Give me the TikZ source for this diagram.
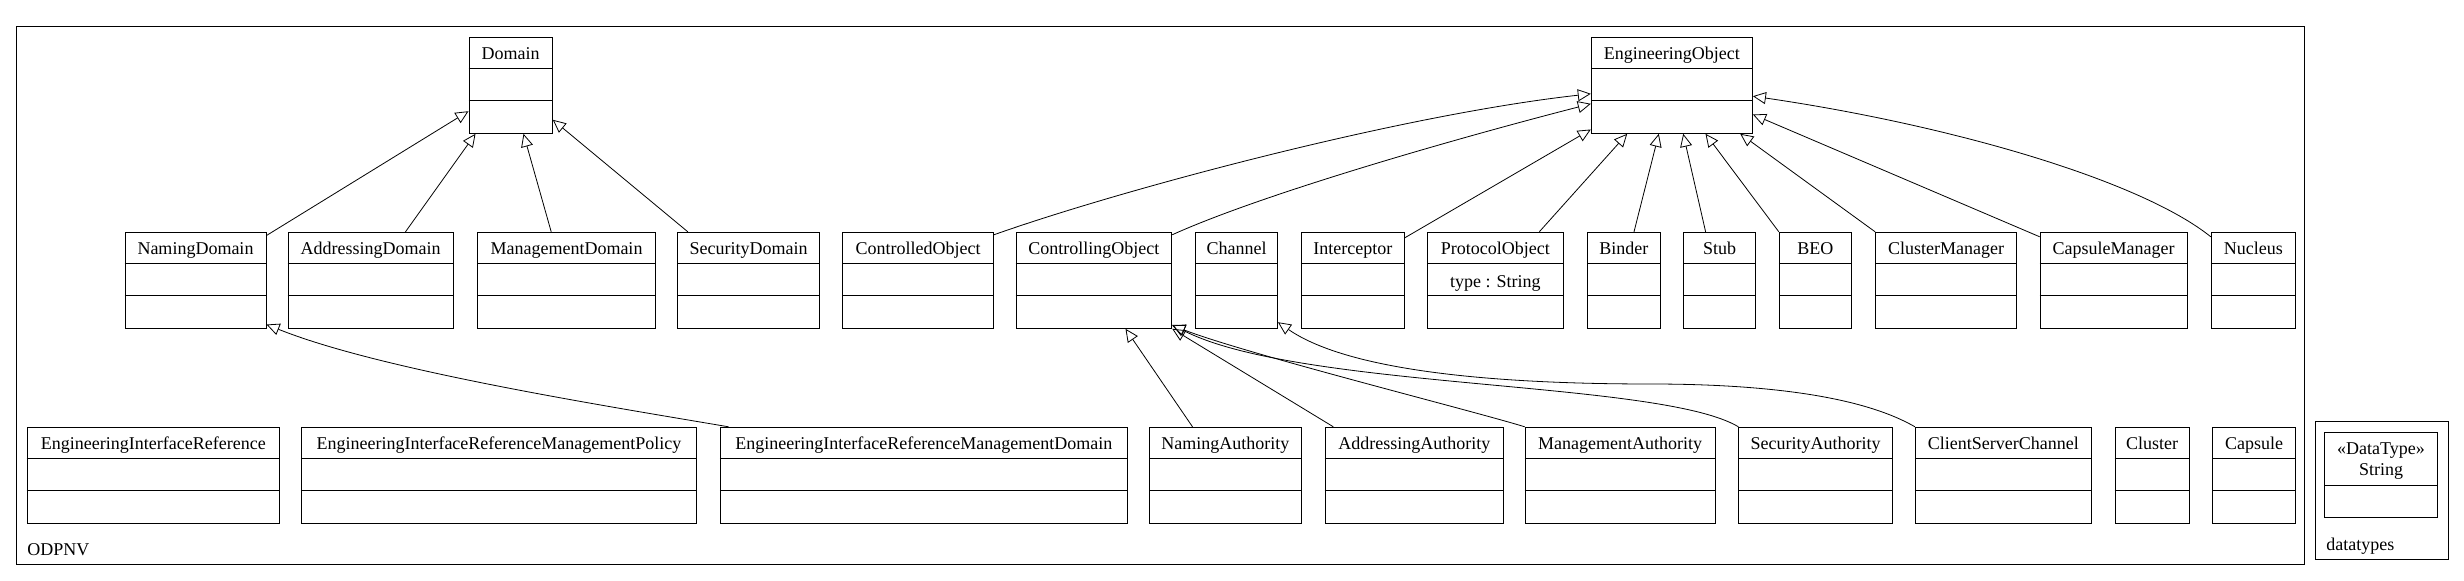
\documentclass[tikz,border=0pt]{standalone}
\usepackage{fontspec}
\setmainfont{Liberation Serif}
\usetikzlibrary{arrows.meta,calc,fit}
\tikzset{
  clsbox/.style={draw, line width=0.5pt, inner sep=0pt, fill=white},
  divline/.style={line width=0.5pt},
  lbl/.style={anchor=base, inner sep=0pt, font=\fontsize{9}{11}\selectfont},
  gen/.style={draw, line width=0.4pt, -{Triangle[open, length=6.5pt, width=6pt]}},
  pkg/.style={draw, line width=0.5pt, inner sep=0pt},
}
\newcommand{\umlclass}[6]{%
  \coordinate (#1-nw) at (#2,#3);
  \coordinate (#1-se) at (#4,{#3+96});
  \node[clsbox, fit=(#1-nw)(#1-se)] (#1) {};
  \draw[divline] ($(#1.north west)+(0,32)$) -- ($(#1.north east)+(0,32)$);
  \draw[divline] ($(#1.north west)+(0,64)$) -- ($(#1.north east)+(0,64)$);
  \node[lbl] at ($(#1.north)+(0,22.7)$) {#5};
  \node[lbl] at ($(#1.north)+(0,55.7)$) {#6};
}
\begin{document}
\begin{tikzpicture}[x=0.5pt, y=-0.5pt]
\useasboundingbox (0,0) rectangle (2464,581);
% packages
\coordinate (odp-nw) at (16.3,27);
\coordinate (odp-se) at (2304.4,565);
\node[pkg, fit=(odp-nw)(odp-se)] (odpnv) {};
\node[lbl, anchor=base west] (odpnvlbl) at (27,556) {ODPNV};
\coordinate (dt-nw) at (2315.1,421.3);
\coordinate (dt-se) at (2448,560);
\node[pkg, fit=(dt-nw)(dt-se)] (datatypes) {};
\node[lbl, anchor=base west] (dtlbl) at (2326,550.7) {datatypes};
% datatype String
\coordinate (str-nw) at (2324.8,432.3);
\coordinate (str-se) at (2437.2,517.7);
\node[clsbox, fit=(str-nw)(str-se)] (str) {};
\draw[divline] ($(str.north west)+(0,53.4)$) -- ($(str.north east)+(0,53.4)$);
\node[lbl] at ($(str.north)+(0,22.7)$) {«DataType»};
\node[lbl] at ($(str.north)+(0,43.7)$) {String};
% row 1
\umlclass{dom}{469}{37.3}{552.3}{Domain}{}
\umlclass{eo}{1591.3}{37.3}{1752.4}{EngineeringObject}{}
% row 2
\umlclass{nd}{125}{232.3}{266}{NamingDomain}{}
\umlclass{ad}{288}{232.3}{453.3}{AddressingDomain}{}
\umlclass{md}{477.5}{232.3}{655.5}{ManagementDomain}{}
\umlclass{sd}{677.5}{232.3}{819.5}{SecurityDomain}{}
\umlclass{co}{842.8}{232.3}{993.4}{ControlledObject}{}
\umlclass{cg}{1016.2}{232.3}{1171.7}{ControllingObject}{}
\umlclass{ch}{1195.6}{232.3}{1277.4}{Channel}{}
\umlclass{ic}{1301.3}{232.3}{1404.3}{Interceptor}{}
\umlclass{po}{1427.6}{232.3}{1563.1}{ProtocolObject}{type : String}
\umlclass{bi}{1587.5}{232.3}{1660.2}{Binder}{}
\umlclass{st}{1683.5}{232.3}{1755.6}{Stub}{}
\umlclass{beo}{1779.3}{232.3}{1851.3}{BEO}{}
\umlclass{cm}{1875.6}{232.3}{2016.5}{ClusterManager}{}
\umlclass{cap}{2040.2}{232.3}{2187}{CapsuleManager}{}
\umlclass{nuc}{2211.3}{232.3}{2295.2}{Nucleus}{}
% row 3
\umlclass{eir}{27.1}{427.3}{279.7}{EngineeringInterfaceReference}{}
\umlclass{eirmp}{301.4}{427.3}{696.5}{EngineeringInterfaceReferenceManagementPolicy}{}
\umlclass{eirmd}{720.4}{427.3}{1127.3}{EngineeringInterfaceReferenceManagementDomain}{}
\umlclass{na}{1149.5}{427.3}{1301.3}{NamingAuthority}{}
\umlclass{aa}{1325.2}{427.3}{1503.5}{AddressingAuthority}{}
\umlclass{ma}{1525.2}{427.3}{1715.2}{ManagementAuthority}{}
\umlclass{sa}{1738.9}{427.3}{1892.2}{SecurityAuthority}{}
\umlclass{csc}{1915.4}{427.3}{2091.3}{ClientServerChannel}{}
\umlclass{clu}{2115}{427.3}{2189.2}{Cluster}{}
\umlclass{cps}{2212.9}{427.3}{2295.2}{Capsule}{}
% generalizations to Domain
\draw[gen] ($(nd.north east)+(0,3.7)$) -- ($(dom.north west)+(0,74.4)$);
\draw[gen] ($(ad.north west)+(118,0)$) -- ($(dom.south west)+(7,0)$);
\draw[gen] ($(md.north west)+(74.2,0)$) -- ($(dom.south west)+(55,0)$);
\draw[gen] ($(sd.north west)+(10.8,0)$) -- ($(dom.north east)+(0,83)$);
% generalizations to EngineeringObject
\draw[gen] ($(co.north east)+(0,3)$) .. controls (1120,190) and (1400,115) .. ($(eo.north west)+(0,57)$);
\draw[gen] ($(cg.north east)+(0,3)$) .. controls (1260,195) and (1450,140) .. ($(eo.north west)+(0,67)$);
\draw[gen] ($(ic.north east)+(0,6)$) -- ($(eo.south west)+(0,-4.3)$);
\draw[gen] ($(po.north west)+(112.2,0)$) -- ($(eo.south west)+(36.4,0)$);
\draw[gen] ($(bi.north west)+(47,0)$) -- ($(eo.south west)+(68,0)$);
\draw[gen] ($(st.north west)+(22.6,0)$) -- ($(eo.south west)+(92.4,0)$);
\draw[gen] (beo.north west) -- ($(eo.south west)+(114.7,0)$);
\draw[gen] (cm.north west) -- ($(eo.south west)+(149.4,0)$);
\draw[gen] ($(cap.north west)+(0,5)$) -- ($(eo.north east)+(0,77.7)$);
\draw[gen] ($(nuc.north west)+(0,5)$) .. controls (2140,180) and (1950,125) .. ($(eo.north east)+(0,59.4)$);
% row 3 generalizations
\draw[gen] ($(eirmd.north west)+(8.6,0)$) .. controls (600,405) and (380,370) .. ($(nd.south east)+(0,-4.3)$);
\draw[gen] ($(na.north west)+(43.5,0)$) -- ($(cg.south west)+(109.8,0)$);
\draw[gen] ($(aa.north west)+(8.6,0)$) -- (cg.south east);
\draw[gen] (ma.north west) .. controls (1470,410) and (1250,355) .. ($(cg.south east)+(0,-3.3)$);
\draw[gen] (sa.north west) .. controls (1660,380) and (1300,390) .. ($(cg.south east)+(0,-4)$);
\draw[gen] (csc.north west) .. controls (1860,395) and (1760,384) .. (1650,384) .. controls (1500,384) and (1350,372) .. ($(ch.south east)+(0,-6.6)$);
\end{tikzpicture}
\end{document}
